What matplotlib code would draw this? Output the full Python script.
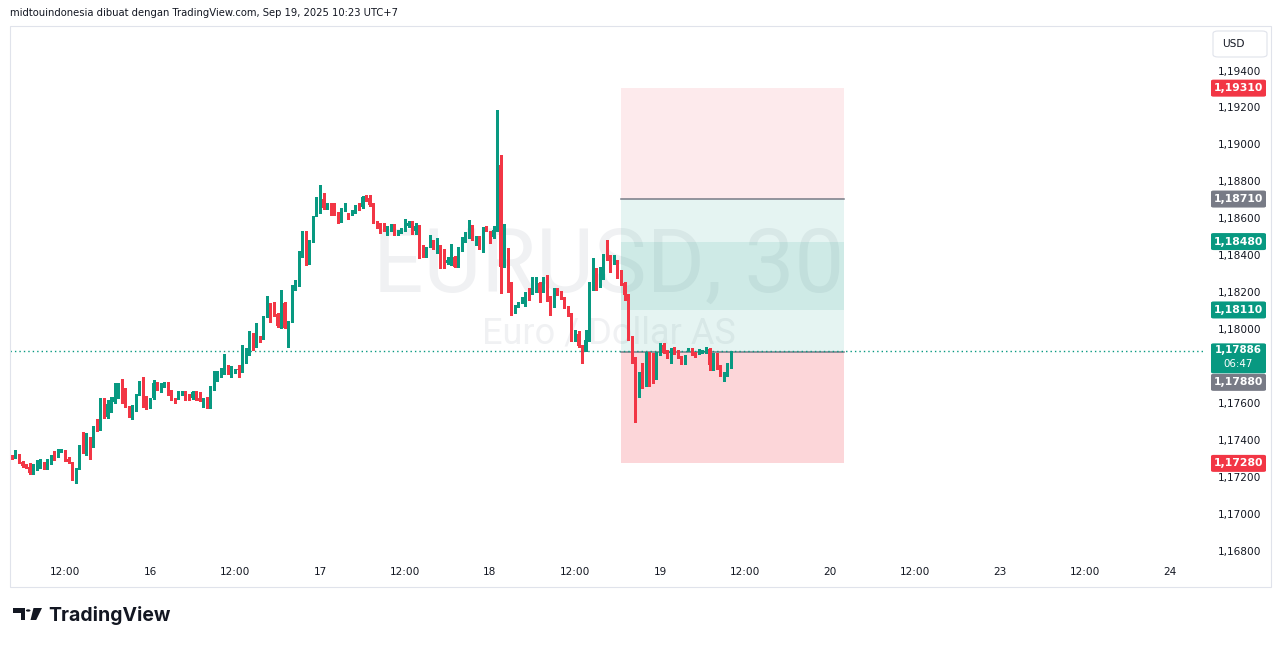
import matplotlib
matplotlib.use("Agg")
import matplotlib.pyplot as plt
from matplotlib.patches import Rectangle, FancyBboxPatch, Polygon, Circle

W, H = 1281, 646

# ---------------- data (EURUSD 30m, candle index 0 = Sep 15 04:30) ----------------
opens = [1.17316, 1.17311, 1.17331, 1.17287, 1.17273, 1.17262, 1.17226, 1.17271, 1.17277, 1.17284,
         1.17251, 1.17280, 1.17325, 1.17316, 1.17343, 1.17349, 1.17305, 1.17287, 1.17194, 1.17253,
         1.17374, 1.17338, 1.17380, 1.17374, 1.17478, 1.17464, 1.17596, 1.17529, 1.17596, 1.17614,
         1.17641, 1.17699, 1.17612, 1.17590, 1.17542, 1.17581, 1.17655, 1.17722, 1.17596, 1.17581,
         1.17632, 1.17717, 1.17695, 1.17695, 1.17717, 1.17662, 1.17632, 1.17635, 1.17660, 1.17662,
         1.17650, 1.17632, 1.17668, 1.17632, 1.17619, 1.17623, 1.17587, 1.17677, 1.17731, 1.17773,
         1.17771, 1.17807, 1.17771, 1.17771, 1.17791, 1.17781, 1.17861, 1.17866, 1.17983, 1.17944,
         1.17962, 1.17957, 1.18074, 1.18146, 1.18122, 1.18088, 1.18020, 1.18146, 1.18014, 1.18047,
         1.18222, 1.18245, 1.18425, 1.18519, 1.18407, 1.18479, 1.18618, 1.18642, 1.18709, 1.18660,
         1.18683, 1.18665, 1.18636, 1.18600, 1.18651, 1.18633, 1.18628, 1.18636, 1.18678, 1.18665,
         1.18720, 1.18714, 1.18683, 1.18588, 1.18564, 1.18564, 1.18543, 1.18552, 1.18564, 1.18519,
         1.18534, 1.18539, 1.18564, 1.18584, 1.18539, 1.18564, 1.18420, 1.18403, 1.18452, 1.18489,
         1.18444, 1.18462, 1.18371, 1.18362, 1.18376, 1.18398, 1.18344, 1.18434, 1.18479, 1.18503,
         1.18552, 1.18498, 1.18506, 1.18449, 1.18552, 1.18528, 1.18506, 1.18539, 1.18894, 1.18344,
         1.18439, 1.18254, 1.18101, 1.18132, 1.18150, 1.18164, 1.18203, 1.18200, 1.18236, 1.18258,
         1.18209, 1.18258, 1.18182, 1.18137, 1.18218, 1.18209, 1.18173, 1.18124, 1.18092, 1.17948,
         1.17980, 1.17915, 1.17890, 1.17944, 1.18245, 1.18322, 1.18240, 1.18281, 1.18397, 1.18386,
         1.18362, 1.18376, 1.18293, 1.18258, 1.18191, 1.17965, 1.17848, 1.17671, 1.17768, 1.17758,
         1.17876, 1.17803, 1.17764, 1.17868, 1.17920, 1.17890, 1.17879, 1.17903, 1.17884, 1.17857,
         1.17848, 1.17890, 1.17899, 1.17879, 1.17876, 1.17879, 1.17879, 1.17899, 1.17789, 1.17872,
         1.17800, 1.17754, 1.17754, 1.17800]
highs = [1.17323, 1.17352, 1.17333, 1.17293, 1.17277, 1.17280, 1.17277, 1.17298, 1.17302, 1.17287,
         1.17302, 1.17328, 1.17349, 1.17356, 1.17356, 1.17352, 1.17313, 1.17290, 1.17255, 1.17377,
         1.17452, 1.17443, 1.17421, 1.17482, 1.17519, 1.17632, 1.17632, 1.17623, 1.17641, 1.17713,
         1.17713, 1.17735, 1.17686, 1.17593, 1.17596, 1.17658, 1.17727, 1.17749, 1.17645, 1.17636,
         1.17731, 1.17720, 1.17713, 1.17722, 1.17720, 1.17677, 1.17636, 1.17673, 1.17672, 1.17672,
         1.17653, 1.17672, 1.17672, 1.17668, 1.17632, 1.17641, 1.17699, 1.17781, 1.17781, 1.17796,
         1.17872, 1.17810, 1.17807, 1.17793, 1.17812, 1.17920, 1.17903, 1.17996, 1.17988, 1.18038,
         1.17967, 1.18080, 1.18186, 1.18150, 1.18155, 1.18091, 1.18218, 1.18155, 1.18050, 1.18245,
         1.18272, 1.18429, 1.18537, 1.18537, 1.18489, 1.18621, 1.18720, 1.18786, 1.18741, 1.18690,
         1.18686, 1.18690, 1.18640, 1.18659, 1.18687, 1.18637, 1.18651, 1.18680, 1.18687, 1.18727,
         1.18732, 1.18732, 1.18686, 1.18591, 1.18582, 1.18582, 1.18564, 1.18575, 1.18575, 1.18543,
         1.18552, 1.18600, 1.18593, 1.18589, 1.18579, 1.18567, 1.18462, 1.18453, 1.18516, 1.18491,
         1.18498, 1.18464, 1.18438, 1.18398, 1.18467, 1.18402, 1.18450, 1.18506, 1.18533, 1.18597,
         1.18569, 1.18510, 1.18510, 1.18561, 1.18564, 1.18539, 1.18564, 1.19192, 1.18948, 1.18575,
         1.18443, 1.18259, 1.18135, 1.18153, 1.18178, 1.18209, 1.18227, 1.18290, 1.18290, 1.18261,
         1.18290, 1.18299, 1.18186, 1.18227, 1.18227, 1.18212, 1.18178, 1.18129, 1.18096, 1.18002,
         1.17998, 1.17918, 1.18002, 1.18259, 1.18389, 1.18335, 1.18344, 1.18414, 1.18489, 1.18408,
         1.18408, 1.18380, 1.18326, 1.18261, 1.18194, 1.17969, 1.17853, 1.17772, 1.17822, 1.17883,
         1.17880, 1.17876, 1.17880, 1.17930, 1.17930, 1.17893, 1.17903, 1.17907, 1.17893, 1.17861,
         1.17869, 1.17903, 1.17902, 1.17883, 1.17897, 1.17896, 1.17911, 1.17902, 1.17879, 1.17875,
         1.17812, 1.17776, 1.17822, 1.17890]
lows = [1.17306, 1.17309, 1.17280, 1.17259, 1.17255, 1.17225, 1.17222, 1.17244, 1.17253, 1.17247,
        1.17247, 1.17277, 1.17298, 1.17312, 1.17339, 1.17293, 1.17284, 1.17190, 1.17172, 1.17250,
        1.17334, 1.17325, 1.17305, 1.17369, 1.17455, 1.17461, 1.17526, 1.17526, 1.17560, 1.17609,
        1.17636, 1.17604, 1.17585, 1.17531, 1.17520, 1.17563, 1.17650, 1.17585, 1.17574, 1.17577,
        1.17628, 1.17677, 1.17668, 1.17691, 1.17650, 1.17623, 1.17604, 1.17631, 1.17650, 1.17623,
        1.17623, 1.17628, 1.17623, 1.17615, 1.17583, 1.17582, 1.17582, 1.17675, 1.17728, 1.17748,
        1.17766, 1.17764, 1.17746, 1.17767, 1.17746, 1.17777, 1.17821, 1.17864, 1.17893, 1.17911,
        1.17938, 1.17953, 1.18070, 1.18047, 1.18077, 1.18020, 1.18015, 1.18010, 1.17908, 1.18043,
        1.18218, 1.18242, 1.18395, 1.18353, 1.18359, 1.18475, 1.18616, 1.18637, 1.18658, 1.18655,
        1.18624, 1.18625, 1.18582, 1.18588, 1.18648, 1.18602, 1.18624, 1.18632, 1.18652, 1.18662,
        1.18701, 1.18674, 1.18579, 1.18555, 1.18526, 1.18539, 1.18516, 1.18539, 1.18518, 1.18516,
        1.18528, 1.18536, 1.18561, 1.18521, 1.18519, 1.18390, 1.18399, 1.18399, 1.18449, 1.18440,
        1.18417, 1.18335, 1.18338, 1.18359, 1.18353, 1.18341, 1.18341, 1.18431, 1.18476, 1.18499,
        1.18489, 1.18462, 1.18440, 1.18425, 1.18536, 1.18471, 1.18499, 1.18536, 1.18200, 1.18341,
        1.18209, 1.18083, 1.18092, 1.18128, 1.18146, 1.18132, 1.18164, 1.18196, 1.18209, 1.18155,
        1.18206, 1.18157, 1.18083, 1.18128, 1.18193, 1.18169, 1.18122, 1.18079, 1.17944, 1.17944,
        1.17908, 1.17823, 1.17886, 1.17941, 1.18218, 1.18218, 1.18236, 1.18277, 1.18379, 1.18317,
        1.18359, 1.18281, 1.18246, 1.18164, 1.17948, 1.17825, 1.17505, 1.17638, 1.17686, 1.17701,
        1.17699, 1.17714, 1.17737, 1.17864, 1.17876, 1.17848, 1.17825, 1.17872, 1.17850, 1.17815,
        1.17815, 1.17886, 1.17866, 1.17857, 1.17872, 1.17876, 1.17876, 1.17785, 1.17785, 1.17789,
        1.17754, 1.17727, 1.17751, 1.17796]
closes = [1.17312, 1.17331, 1.17286, 1.17266, 1.17259, 1.17230, 1.17271, 1.17277, 1.17280, 1.17251,
          1.17284, 1.17324, 1.17302, 1.17349, 1.17349, 1.17298, 1.17287, 1.17194, 1.17251, 1.17374,
          1.17338, 1.17380, 1.17374, 1.17478, 1.17461, 1.17605, 1.17529, 1.17600, 1.17619, 1.17641,
          1.17699, 1.17608, 1.17590, 1.17542, 1.17578, 1.17655, 1.17722, 1.17590, 1.17578, 1.17632,
          1.17717, 1.17686, 1.17700, 1.17717, 1.17655, 1.17632, 1.17608, 1.17662, 1.17662, 1.17646,
          1.17628, 1.17668, 1.17628, 1.17619, 1.17623, 1.17587, 1.17681, 1.17737, 1.17771, 1.17776,
          1.17808, 1.17767, 1.17789, 1.17791, 1.17787, 1.17861, 1.17879, 1.17992, 1.17944, 1.17969,
          1.17951, 1.18077, 1.18142, 1.18114, 1.18083, 1.18023, 1.18142, 1.18014, 1.18047, 1.18223,
          1.18245, 1.18425, 1.18519, 1.18398, 1.18479, 1.18618, 1.18647, 1.18709, 1.18660, 1.18683,
          1.18669, 1.18629, 1.18602, 1.18655, 1.18672, 1.18606, 1.18647, 1.18678, 1.18656, 1.18723,
          1.18705, 1.18678, 1.18582, 1.18561, 1.18561, 1.18543, 1.18561, 1.18558, 1.18521, 1.18539,
          1.18543, 1.18575, 1.18582, 1.18539, 1.18564, 1.18415, 1.18403, 1.18449, 1.18485, 1.18444,
          1.18462, 1.18371, 1.18359, 1.18380, 1.18395, 1.18344, 1.18441, 1.18479, 1.18503, 1.18552,
          1.18503, 1.18506, 1.18444, 1.18552, 1.18539, 1.18506, 1.18543, 1.18889, 1.18344, 1.18441,
          1.18254, 1.18110, 1.18132, 1.18150, 1.18173, 1.18203, 1.18191, 1.18227, 1.18258, 1.18203,
          1.18258, 1.18160, 1.18160, 1.18218, 1.18196, 1.18173, 1.18124, 1.18083, 1.17948, 1.17980,
          1.17915, 1.17890, 1.17948, 1.18254, 1.18323, 1.18240, 1.18281, 1.18404, 1.18383, 1.18359,
          1.18371, 1.18289, 1.18250, 1.18191, 1.17951, 1.17848, 1.17671, 1.17768, 1.17753, 1.17879,
          1.17800, 1.17758, 1.17876, 1.17920, 1.17879, 1.17872, 1.17884, 1.17876, 1.17854, 1.17854,
          1.17866, 1.17893, 1.17876, 1.17866, 1.17890, 1.17893, 1.17899, 1.17812, 1.17872, 1.17800,
          1.17758, 1.17758, 1.17803, 1.17886]

time_tick_index = [15, 39, 63, 87, 111, 135, 159, 183, 207, 231, 255, 279, 303, 327]
time_tick_labels = ["12:00", "16", "12:00", "17", "12:00", "18", "12:00", "19",
                    "12:00", "20", "12:00", "23", "12:00", "24"]
price_ticks = [1.168, 1.170, 1.172, 1.174, 1.176, 1.178, 1.180, 1.182,
               1.184, 1.186, 1.188, 1.190, 1.192, 1.194]

# position tools (prices)
short_stop, short_entry = 1.19310, 1.18710
short_target = 1.18110
long_target, long_entry, long_stop = 1.18480, 1.17880, 1.17280
box_start_index, box_end_index = 172.0, 234.9
last_price = 1.17886
countdown = "06:47"

GREEN = "#089981"
RED = "#f23645"
GREY = "#787b86"
TXT = "#131722"


def fmt(p):
    return f"{p:.5f}".replace(".", ",")


fig = plt.figure(figsize=(W / 100, H / 100), dpi=100)
fig.patch.set_facecolor("white")

# main plot area in pixels: x 10..1205, y 26..560
ax = fig.add_axes([10 / W, 1 - 560 / H, 1195 / W, 534 / H])
ax.set_xlim(-0.54, 336.9)
ax.set_ylim(1.167573, 1.196462)
ax.axis("off")

# watermark
ax.text(0.5008, 0.548, "EURUSD, 30", transform=ax.transAxes, ha="center", va="center",
        fontsize=64, family="Roboto", color="#f0f1f3", zorder=0)
ax.text(0.5015, 0.424, "Euro / Dollar AS", transform=ax.transAxes, ha="center", va="center",
        fontsize=26, family="Roboto", color="#f0f1f3", zorder=0)

# position boxes
bw = box_end_index - box_start_index
ax.add_patch(Rectangle((box_start_index, short_entry), bw, short_stop - short_entry,
                       facecolor=RED, alpha=0.1, lw=0, zorder=1))
ax.add_patch(Rectangle((box_start_index, short_target), bw, short_entry - short_target,
                       facecolor=GREEN, alpha=0.1, lw=0, zorder=1))
ax.add_patch(Rectangle((box_start_index, long_entry), bw, long_target - long_entry,
                       facecolor=GREEN, alpha=0.1, lw=0, zorder=1))
ax.add_patch(Rectangle((box_start_index, long_stop), bw, long_entry - long_stop,
                       facecolor=RED, alpha=0.2, lw=0, zorder=1))
ax.plot([box_start_index, box_end_index], [short_entry, short_entry], color=GREY, lw=1.1, zorder=2)
ax.plot([box_start_index, box_end_index], [long_entry, long_entry], color=GREY, lw=1.1, zorder=2)

# last price dotted line
ax.plot([-0.54, 336.9], [last_price, last_price], color=GREEN, lw=1.0,
        linestyle=(0, (1, 2.2)), zorder=3)

# candles
for i, (o, h, l, c) in enumerate(zip(opens, highs, lows, closes)):
    col = GREEN if c >= o else RED
    ax.vlines(i, l, h, color=col, lw=0.8, zorder=4, antialiased=False)
    bottom = min(o, c)
    height = max(abs(c - o), 0.00006)
    ax.add_patch(Rectangle((i - 0.32, bottom), 0.64, height, facecolor=col, edgecolor="none",
                           zorder=5, antialiased=False))

fig.canvas.draw()


def py(p):
    return H - ax.transData.transform((0, p))[1]


def fx(x):
    return x / W


def fy(y):
    return 1 - y / H


# outer border
fig.add_artist(Rectangle((fx(10), fy(587)), 1261 / W, 561 / H, transform=fig.transFigure,
                         fill=False, edgecolor="#e0e3eb", lw=0.8))

# header
fig.text(fx(10), fy(13.5), "midtouindonesia dibuat dengan TradingView.com, Sep 19, 2025 10:23 UTC+7",
         ha="left", va="center", fontsize=7.2, color=TXT)

# time labels
for idx, lab in zip(time_tick_index, time_tick_labels):
    xd = ax.transData.transform((idx, 0))[0]
    fig.text(xd / W, fy(572), lab, ha="center", va="center", fontsize=7.6, color=TXT)

# tag boxes on the price scale (pixel spans, top..bottom)
yl = py(last_price)
tag_spans = [(py(p) - 8.5, py(p) + 8.5) for p in (short_stop, short_entry, long_target,
                                                  short_target, long_stop)]
tag_spans.append((yl - 8, yl + 22))
tag_spans.append((yl + 22.5, yl + 39.5))

# price labels (those hidden under a tag are not shown)
for p in price_ticks:
    y = py(p)
    if any(a - 3 < y < b + 3 for a, b in tag_spans):
        continue
    fig.text(fx(1261), fy(y), fmt(p), ha="right", va="center", fontsize=7.6, color=TXT)

# USD box
fig.add_artist(FancyBboxPatch((fx(1213), fy(57)), 54 / W, 26 / H,
                              boxstyle="round,pad=0,rounding_size=0.004",
                              transform=fig.transFigure, facecolor="white",
                              edgecolor="#e0e3eb", lw=0.8))
fig.text(fx(1222), fy(44), "USD", ha="left", va="center", fontsize=7.6, color=TXT)


def tag(yc, text, color, h=17):
    fig.add_artist(FancyBboxPatch((fx(1211), fy(yc + h / 2)), 55 / W, h / H,
                                  boxstyle="round,pad=0,rounding_size=0.002",
                                  transform=fig.transFigure, facecolor=color,
                                  edgecolor="none", zorder=10))
    fig.text(fx(1238.5), fy(yc), text, ha="center", va="center", fontsize=7.8,
             color="white", fontweight="bold", zorder=11)


tag(py(short_stop), fmt(short_stop), RED)
tag(py(short_entry), fmt(short_entry), GREY)
tag(py(long_target), fmt(long_target), GREEN)
tag(py(short_target), fmt(short_target), GREEN)
tag(py(long_stop), fmt(long_stop), RED)

# last price box (two lines) and displaced entry tag beneath
fig.add_artist(FancyBboxPatch((fx(1211), fy(yl + 22)), 55 / W, 30 / H,
                              boxstyle="round,pad=0,rounding_size=0.002",
                              transform=fig.transFigure, facecolor=GREEN, edgecolor="none", zorder=10))
fig.text(fx(1238.5), fy(yl - 1), fmt(last_price), ha="center", va="center", fontsize=7.4,
         color="white", fontweight="bold", zorder=11)
fig.text(fx(1238.5), fy(yl + 12.5), countdown, ha="center", va="center", fontsize=7.4,
         color="white", zorder=11)
tag(yl + 31, fmt(long_entry), GREY)

# TradingView logo
fig.add_artist(Polygon([(fx(12.5), fy(608)), (fx(24.5), fy(608)), (fx(24.5), fy(620)),
                        (fx(20.5), fy(620)), (fx(20.5), fy(612.5)), (fx(12.5), fy(612.5))],
                       closed=True, transform=fig.transFigure, facecolor="#131722", edgecolor="none"))
fig.add_artist(Circle((fx(28.2), fy(610.5)), 2.3 / W, transform=fig.transFigure,
                      facecolor="#131722", edgecolor="none"))
fig.add_artist(Polygon([(fx(33.5), fy(608)), (fx(42), fy(608)), (fx(36.2), fy(620)),
                        (fx(30.5), fy(620))],
                       closed=True, transform=fig.transFigure, facecolor="#131722", edgecolor="none"))
fig.text(fx(48), fy(615.5), "TradingView", ha="left", va="center", fontsize=14.0,
         fontweight="bold", family="Inter", color="#131722")

fig.savefig("out.png", dpi=100, facecolor="white")
